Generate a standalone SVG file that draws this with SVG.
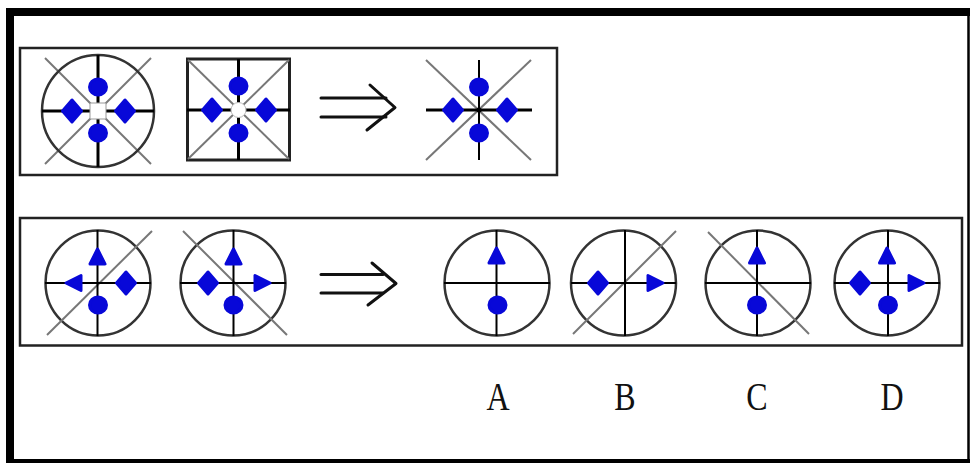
<svg xmlns="http://www.w3.org/2000/svg" width="971" height="466" viewBox="0 0 971 466">
<style>
.frame{fill:none;stroke:#000}
.panel{fill:none;stroke:#222;stroke-width:2.5}
.ring{fill:none;stroke:#333;stroke-width:2.5}
.axis{stroke:#000;stroke-width:3;fill:none}
.thin{stroke:#000;stroke-width:2;fill:none}
.diag{stroke:#777;stroke-width:2;fill:none}
.blue{fill:#0808d8;stroke:#0808d8;stroke-width:3;stroke-linejoin:round}
.arr{stroke:#111;stroke-width:3;fill:none;stroke-linecap:round;stroke-linejoin:round}
.lbl{font-family:"Liberation Serif","Times New Roman",serif;font-size:40px;fill:#111;text-anchor:middle}
</style>
<defs>
<polygon id="dia" class="blue" points="0,-11 9.5,0 0,11 -9.5,0"/>
<polygon id="tu" class="blue" points="0,-8 7.5,7 -7.5,7"/>
<polygon id="tl" class="blue" points="-8,0 7,-7.5 7,7.5"/>
<polygon id="tr" class="blue" points="8,0 -7,-7.5 -7,7.5"/>
<ellipse id="dot" class="blue" rx="8.5" ry="8"/>
</defs>
<rect width="971" height="466" fill="#fff"/>
<g id="outer-frame">
<line class="frame" x1="10" y1="8" x2="10" y2="463" stroke-width="8"/>
<line class="frame" x1="6" y1="12" x2="970" y2="12" stroke-width="8"/>
<line class="frame" x1="968.5" y1="8" x2="968.5" y2="463" stroke-width="2.5"/>
<line class="frame" x1="6" y1="461" x2="970" y2="461" stroke-width="4"/>
</g>
<g id="panel-top"><rect class="panel" x="20" y="48" width="537" height="127"/></g>
<g id="panel-bottom"><rect class="panel" x="20" y="218" width="942" height="127.5"/></g>

<g id="top-fig1">
<line class="diag" x1="45" y1="58" x2="151" y2="164"/>
<line class="diag" x1="151" y1="58" x2="45" y2="164"/>
<circle class="ring" cx="98" cy="111" r="56"/>
<line class="axis" x1="98" y1="55" x2="98" y2="167"/>
<line class="axis" x1="42" y1="111" x2="154" y2="111"/>
<rect x="90" y="103" width="16" height="16" fill="#fff" stroke="#999" stroke-width="1"/>
<use href="#dot" x="98" y="87"/>
<use href="#dot" x="98" y="133"/>
<use href="#dia" x="72" y="111"/>
<use href="#dia" x="125" y="111"/>
</g>

<g id="top-fig2">
<rect x="187.5" y="59" width="102" height="101" fill="none" stroke="#222" stroke-width="3"/>
<line class="diag" x1="188" y1="60" x2="289" y2="159"/>
<line class="diag" x1="289" y1="60" x2="188" y2="159"/>
<line class="axis" x1="238.5" y1="59" x2="238.5" y2="160"/>
<line class="axis" x1="187" y1="110" x2="290" y2="110"/>
<circle cx="238.5" cy="110" r="7.5" fill="#fff" stroke="#bbb" stroke-width="1"/>
<use href="#dot" x="238.5" y="86"/>
<use href="#dot" x="238.5" y="133"/>
<use href="#dia" x="212" y="110"/>
<use href="#dia" x="266" y="110"/>
</g>

<g id="top-arrow">
<line class="arr" x1="321" y1="98" x2="386" y2="98"/>
<line class="arr" x1="321" y1="117" x2="386" y2="117"/>
<polyline class="arr" points="370,85 395,107.5 367,130"/>
</g>

<g id="top-fig3">
<line class="diag" x1="426" y1="60" x2="531" y2="160"/>
<line class="diag" x1="531" y1="60" x2="426" y2="160"/>
<line class="thin" x1="479" y1="60" x2="479" y2="160"/>
<line class="axis" x1="426" y1="110" x2="532" y2="110"/>
<circle cx="479" cy="110" r="2.5" fill="#000"/>
<use href="#dot" x="479" y="87"/>
<use href="#dot" x="479" y="133"/>
<use href="#dia" x="453" y="110"/>
<use href="#dia" x="507" y="110"/>
</g>

<g id="bot-fig1">
<circle class="ring" cx="98" cy="283" r="52.5"/>
<line class="diag" x1="152" y1="231" x2="47" y2="335"/>
<line class="thin" x1="97.5" y1="230" x2="97.5" y2="336"/>
<line class="thin" x1="45" y1="283" x2="151" y2="283"/>
<use href="#tu" x="97.5" y="257"/>
<use href="#tl" x="74" y="283"/>
<use href="#dia" x="126" y="283"/>
<use href="#dot" x="98" y="305"/>
</g>

<g id="bot-fig2">
<circle class="ring" cx="233" cy="283" r="52.5"/>
<line class="diag" x1="183" y1="231" x2="287" y2="335"/>
<line class="thin" x1="233.5" y1="230" x2="233.5" y2="336"/>
<line class="thin" x1="180" y1="283" x2="286" y2="283"/>
<use href="#tu" x="233.5" y="257"/>
<use href="#dia" x="208" y="283"/>
<use href="#tr" x="262" y="283"/>
<use href="#dot" x="233.5" y="305"/>
</g>

<g id="bot-arrow">
<line class="arr" x1="321" y1="274.5" x2="383" y2="274.5"/>
<line class="arr" x1="321" y1="293" x2="383" y2="293"/>
<polyline class="arr" points="372,263 396,283.5 368,305"/>
</g>

<g id="option-A">
<circle class="ring" cx="497" cy="283" r="52.5"/>
<line class="thin" x1="496.5" y1="230" x2="496.5" y2="336"/>
<line class="thin" x1="444" y1="283" x2="550" y2="283"/>
<use href="#tu" x="496.5" y="256"/>
<use href="#dot" x="497.5" y="305"/>
</g>

<g id="option-B">
<circle class="ring" cx="623.5" cy="283" r="52.5"/>
<line class="diag" x1="676" y1="231" x2="573" y2="334"/>
<line class="thin" x1="625" y1="230" x2="625" y2="336"/>
<line class="thin" x1="571" y1="283" x2="676" y2="283"/>
<use href="#dia" x="598" y="283"/>
<use href="#tr" x="655" y="283"/>
</g>

<g id="option-C">
<circle class="ring" cx="758" cy="283" r="52.5"/>
<line class="diag" x1="708" y1="232" x2="809" y2="334"/>
<line class="thin" x1="757" y1="230" x2="757" y2="336"/>
<line class="thin" x1="705" y1="283" x2="811" y2="283"/>
<use href="#tu" x="757" y="256"/>
<use href="#dot" x="757" y="305"/>
</g>

<g id="option-D">
<circle class="ring" cx="887" cy="283" r="52.5"/>
<line class="thin" x1="888" y1="230" x2="888" y2="336"/>
<line class="thin" x1="834" y1="283" x2="940" y2="283"/>
<use href="#tu" x="887" y="256"/>
<use href="#dia" x="860" y="283"/>
<use href="#tr" x="916" y="283"/>
<use href="#dot" x="888" y="305"/>
</g>

<g id="labels">
<text class="lbl" transform="translate(498,410) scale(0.8,1)">A</text>
<text class="lbl" transform="translate(625,410) scale(0.8,1)">B</text>
<text class="lbl" transform="translate(757,410) scale(0.8,1)">C</text>
<text class="lbl" transform="translate(892,410) scale(0.8,1)">D</text>
</g>
</svg>
